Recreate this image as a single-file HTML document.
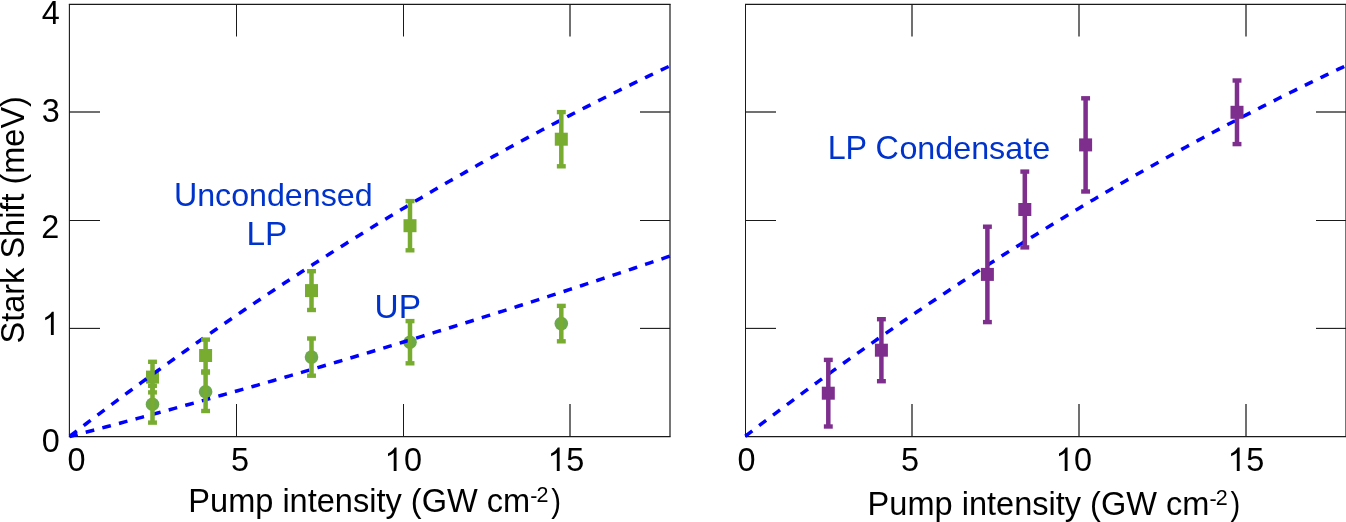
<!DOCTYPE html>
<html><head><meta charset="utf-8"><style>
html,body{margin:0;padding:0;background:#fff;}
svg{display:block;will-change:transform;font-family:"Liberation Sans",sans-serif;}
</style></head><body>
<svg width="1346" height="522" viewBox="0 0 1346 522">
<rect width="1346" height="522" fill="#fff"/>
<line x1="68.85000000000001" y1="4.3" x2="670.6" y2="4.3" stroke="#1a1a1a" stroke-width="1.3"/><line x1="68.85000000000001" y1="436.6" x2="670.6" y2="436.6" stroke="#1a1a1a" stroke-width="1.1"/><line x1="69.4" y1="4.3" x2="69.4" y2="436.6" stroke="#1a1a1a" stroke-width="1.1"/><line x1="670.0" y1="4.3" x2="670.0" y2="436.6" stroke="#1a1a1a" stroke-width="1.2"/><line x1="236.5" y1="4.3" x2="236.5" y2="36.5" stroke="#1a1a1a" stroke-width="1.0"/><line x1="236.5" y1="436.6" x2="236.5" y2="404" stroke="#1a1a1a" stroke-width="1.0"/><line x1="403.5" y1="4.3" x2="403.5" y2="36.5" stroke="#1a1a1a" stroke-width="1.0"/><line x1="403.5" y1="436.6" x2="403.5" y2="404" stroke="#1a1a1a" stroke-width="1.0"/><line x1="570.0" y1="4.3" x2="570.0" y2="36.5" stroke="#1a1a1a" stroke-width="1.25"/><line x1="570.0" y1="436.6" x2="570.0" y2="404" stroke="#1a1a1a" stroke-width="1.25"/><line x1="69.4" y1="112.0" x2="100" y2="112.0" stroke="#1a1a1a" stroke-width="1.25"/><line x1="670.0" y1="112.0" x2="640.0" y2="112.0" stroke="#1a1a1a" stroke-width="1.25"/><line x1="69.4" y1="220.5" x2="100" y2="220.5" stroke="#1a1a1a" stroke-width="1.0"/><line x1="670.0" y1="220.5" x2="640.0" y2="220.5" stroke="#1a1a1a" stroke-width="1.0"/><line x1="69.4" y1="328.4" x2="100" y2="328.4" stroke="#1a1a1a" stroke-width="1.1"/><line x1="670.0" y1="328.4" x2="640.0" y2="328.4" stroke="#1a1a1a" stroke-width="1.1"/><line x1="745.0" y1="4.3" x2="1346.6" y2="4.3" stroke="#1a1a1a" stroke-width="1.3"/><line x1="745.0" y1="436.6" x2="1346.6" y2="436.6" stroke="#1a1a1a" stroke-width="1.1"/><line x1="745.5" y1="4.3" x2="745.5" y2="436.6" stroke="#1a1a1a" stroke-width="1.0"/><line x1="1346.0" y1="4.3" x2="1346.0" y2="436.6" stroke="#1a1a1a" stroke-width="1.2"/><line x1="912.0" y1="4.3" x2="912.0" y2="36.5" stroke="#1a1a1a" stroke-width="1.25"/><line x1="912.0" y1="436.6" x2="912.0" y2="404" stroke="#1a1a1a" stroke-width="1.25"/><line x1="1079.0" y1="4.3" x2="1079.0" y2="36.5" stroke="#1a1a1a" stroke-width="1.25"/><line x1="1079.0" y1="436.6" x2="1079.0" y2="404" stroke="#1a1a1a" stroke-width="1.25"/><line x1="1246.0" y1="4.3" x2="1246.0" y2="36.5" stroke="#1a1a1a" stroke-width="1.25"/><line x1="1246.0" y1="436.6" x2="1246.0" y2="404" stroke="#1a1a1a" stroke-width="1.25"/><line x1="745.5" y1="112.0" x2="776" y2="112.0" stroke="#1a1a1a" stroke-width="1.25"/><line x1="1346.0" y1="112.0" x2="1316.0" y2="112.0" stroke="#1a1a1a" stroke-width="1.25"/><line x1="745.5" y1="220.5" x2="776" y2="220.5" stroke="#1a1a1a" stroke-width="1.0"/><line x1="1346.0" y1="220.5" x2="1316.0" y2="220.5" stroke="#1a1a1a" stroke-width="1.0"/><line x1="745.5" y1="328.4" x2="776" y2="328.4" stroke="#1a1a1a" stroke-width="1.1"/><line x1="1346.0" y1="328.4" x2="1316.0" y2="328.4" stroke="#1a1a1a" stroke-width="1.1"/><circle cx="152.50" cy="404.20" r="6.8" fill="#6da849"/><rect x="146.00" y="370.60" width="13.0" height="13.0" fill="#77ac30"/><circle cx="205.60" cy="391.80" r="6.8" fill="#6da849"/><rect x="199.10" y="349.00" width="13.0" height="13.0" fill="#77ac30"/><circle cx="311.50" cy="357.10" r="6.8" fill="#6da849"/><rect x="305.00" y="284.10" width="13.0" height="13.0" fill="#77ac30"/><circle cx="410.00" cy="342.20" r="6.8" fill="#6da849"/><rect x="403.50" y="219.20" width="13.0" height="13.0" fill="#77ac30"/><circle cx="561.30" cy="323.60" r="6.8" fill="#6da849"/><rect x="554.80" y="132.70" width="13.0" height="13.0" fill="#77ac30"/><path d="M69.50,436.50 L73.50,433.42 L77.51,430.36 L81.51,427.30 L85.51,424.25 L89.52,421.20 L93.52,418.17 L97.52,415.15 L101.53,412.13 L105.53,409.12 L109.53,406.12 L113.54,403.13 L117.54,400.14 L121.54,397.17 L125.55,394.20 L129.55,391.24 L133.55,388.29 L137.56,385.35 L141.56,382.42 L145.56,379.49 L149.57,376.57 L153.57,373.67 L157.57,370.77 L161.58,367.87 L165.58,364.99 L169.58,362.11 L173.59,359.25 L177.59,356.39 L181.59,353.54 L185.60,350.70 L189.60,347.86 L193.60,345.03 L197.61,342.22 L201.61,339.41 L205.61,336.61 L209.62,333.81 L213.62,331.03 L217.62,328.25 L221.63,325.48 L225.63,322.72 L229.63,319.97 L233.64,317.23 L237.64,314.49 L241.64,311.76 L245.65,309.04 L249.65,306.33 L253.65,303.63 L257.66,300.94 L261.66,298.25 L265.66,295.57 L269.67,292.90 L273.67,290.24 L277.67,287.58 L281.68,284.94 L285.68,282.30 L289.68,279.67 L293.69,277.05 L297.69,274.43 L301.69,271.83 L305.70,269.23 L309.70,266.64 L313.70,264.06 L317.71,261.49 L321.71,258.92 L325.71,256.36 L329.72,253.81 L333.72,251.27 L337.72,248.74 L341.73,246.22 L345.73,243.70 L349.73,241.19 L353.74,238.69 L357.74,236.19 L361.74,233.71 L365.75,231.23 L369.75,228.76 L373.75,226.30 L377.76,223.85 L381.76,221.40 L385.76,218.97 L389.77,216.54 L393.77,214.12 L397.77,211.70 L401.78,209.30 L405.78,206.90 L409.78,204.51 L413.79,202.13 L417.79,199.75 L421.79,197.39 L425.80,195.03 L429.80,192.68 L433.80,190.34 L437.81,188.00 L441.81,185.68 L445.81,183.36 L449.82,181.05 L453.82,178.74 L457.82,176.45 L461.83,174.16 L465.83,171.88 L469.83,169.61 L473.84,167.35 L477.84,165.09 L481.84,162.84 L485.85,160.60 L489.85,158.37 L493.85,156.15 L497.86,153.93 L501.86,151.72 L505.86,149.52 L509.87,147.33 L513.87,145.14 L517.87,142.96 L521.88,140.79 L525.88,138.63 L529.88,136.47 L533.89,134.33 L537.89,132.19 L541.89,130.06 L545.90,127.93 L549.90,125.82 L553.90,123.71 L557.91,121.61 L561.91,119.51 L565.91,117.43 L569.92,115.35 L573.92,113.28 L577.92,111.22 L581.93,109.16 L585.93,107.12 L589.93,105.08 L593.94,103.05 L597.94,101.02 L601.94,99.01 L605.95,97.00 L609.95,95.00 L613.95,93.00 L617.96,91.02 L621.96,89.04 L625.96,87.07 L629.97,85.10 L633.97,83.15 L637.97,81.20 L641.98,79.26 L645.98,77.33 L649.98,75.40 L653.99,73.48 L657.99,71.57 L661.99,69.67 L666.00,67.78 L670.00,65.89" fill="none" stroke="#0000ff" stroke-width="3.5" stroke-dasharray="8.8 8.61" stroke-dashoffset="-0.40"/><path d="M69.50,436.50 L73.50,435.45 L77.51,434.41 L81.51,433.36 L85.51,432.30 L89.52,431.25 L93.52,430.19 L97.52,429.13 L101.53,428.07 L105.53,427.01 L109.53,425.94 L113.54,424.88 L117.54,423.81 L121.54,422.74 L125.55,421.66 L129.55,420.59 L133.55,419.51 L137.56,418.43 L141.56,417.35 L145.56,416.26 L149.57,415.18 L153.57,414.09 L157.57,413.00 L161.58,411.91 L165.58,410.81 L169.58,409.71 L173.59,408.62 L177.59,407.51 L181.59,406.41 L185.60,405.31 L189.60,404.20 L193.60,403.09 L197.61,401.98 L201.61,400.87 L205.61,399.75 L209.62,398.63 L213.62,397.51 L217.62,396.39 L221.63,395.27 L225.63,394.14 L229.63,393.01 L233.64,391.88 L237.64,390.75 L241.64,389.61 L245.65,388.48 L249.65,387.34 L253.65,386.20 L257.66,385.06 L261.66,383.91 L265.66,382.76 L269.67,381.61 L273.67,380.46 L277.67,379.31 L281.68,378.15 L285.68,377.00 L289.68,375.84 L293.69,374.67 L297.69,373.51 L301.69,372.34 L305.70,371.18 L309.70,370.01 L313.70,368.83 L317.71,367.66 L321.71,366.48 L325.71,365.30 L329.72,364.12 L333.72,362.94 L337.72,361.76 L341.73,360.57 L345.73,359.38 L349.73,358.19 L353.74,356.99 L357.74,355.80 L361.74,354.60 L365.75,353.40 L369.75,352.20 L373.75,351.00 L377.76,349.79 L381.76,348.58 L385.76,347.37 L389.77,346.16 L393.77,344.95 L397.77,343.73 L401.78,342.51 L405.78,341.29 L409.78,340.07 L413.79,338.84 L417.79,337.62 L421.79,336.39 L425.80,335.15 L429.80,333.92 L433.80,332.69 L437.81,331.45 L441.81,330.21 L445.81,328.97 L449.82,327.72 L453.82,326.48 L457.82,325.23 L461.83,323.98 L465.83,322.73 L469.83,321.47 L473.84,320.22 L477.84,318.96 L481.84,317.70 L485.85,316.43 L489.85,315.17 L493.85,313.90 L497.86,312.63 L501.86,311.36 L505.86,310.09 L509.87,308.81 L513.87,307.54 L517.87,306.26 L521.88,304.97 L525.88,303.69 L529.88,302.41 L533.89,301.12 L537.89,299.83 L541.89,298.53 L545.90,297.24 L549.90,295.94 L553.90,294.65 L557.91,293.35 L561.91,292.04 L565.91,290.74 L569.92,289.43 L573.92,288.12 L577.92,286.81 L581.93,285.50 L585.93,284.18 L589.93,282.86 L593.94,281.55 L597.94,280.22 L601.94,278.90 L605.95,277.57 L609.95,276.25 L613.95,274.92 L617.96,273.58 L621.96,272.25 L625.96,270.91 L629.97,269.57 L633.97,268.23 L637.97,266.89 L641.98,265.55 L645.98,264.20 L649.98,262.85 L653.99,261.50 L657.99,260.15 L661.99,258.79 L666.00,257.43 L670.00,256.07" fill="none" stroke="#0000ff" stroke-width="3.5" stroke-dasharray="8.8 8.38" stroke-dashoffset="0.40"/><path d="M745.00,436.50 L749.01,433.42 L753.02,430.35 L757.03,427.28 L761.04,424.23 L765.05,421.18 L769.06,418.14 L773.07,415.11 L777.08,412.09 L781.09,409.07 L785.10,406.07 L789.11,403.07 L793.12,400.08 L797.13,397.10 L801.14,394.13 L805.15,391.17 L809.16,388.21 L813.17,385.27 L817.18,382.33 L821.19,379.40 L825.20,376.48 L829.21,373.56 L833.22,370.66 L837.23,367.76 L841.24,364.87 L845.25,361.99 L849.26,359.12 L853.27,356.26 L857.28,353.40 L861.29,350.56 L865.30,347.72 L869.31,344.89 L873.32,342.07 L877.33,339.25 L881.34,336.45 L885.35,333.65 L889.36,330.86 L893.37,328.08 L897.38,325.31 L901.39,322.54 L905.40,319.79 L909.41,317.04 L913.42,314.30 L917.43,311.57 L921.44,308.85 L925.45,306.13 L929.46,303.42 L933.47,300.73 L937.48,298.03 L941.49,295.35 L945.50,292.68 L949.51,290.01 L953.52,287.35 L957.53,284.70 L961.54,282.06 L965.55,279.43 L969.56,276.80 L973.57,274.19 L977.58,271.58 L981.59,268.98 L985.60,266.38 L989.61,263.80 L993.62,261.22 L997.63,258.65 L1001.64,256.09 L1005.65,253.54 L1009.66,250.99 L1013.67,248.46 L1017.68,245.93 L1021.69,243.41 L1025.70,240.90 L1029.71,238.39 L1033.72,235.90 L1037.73,233.41 L1041.74,230.93 L1045.75,228.46 L1049.76,225.99 L1053.77,223.54 L1057.78,221.09 L1061.79,218.65 L1065.80,216.21 L1069.81,213.79 L1073.82,211.37 L1077.83,208.97 L1081.84,206.56 L1085.85,204.17 L1089.86,201.79 L1093.87,199.41 L1097.88,197.04 L1101.89,194.68 L1105.90,192.33 L1109.91,189.98 L1113.92,187.65 L1117.93,185.32 L1121.94,183.00 L1125.95,180.68 L1129.96,178.38 L1133.97,176.08 L1137.98,173.79 L1141.99,171.51 L1146.00,169.23 L1150.01,166.97 L1154.02,164.71 L1158.03,162.46 L1162.04,160.22 L1166.05,157.98 L1170.06,155.75 L1174.07,153.54 L1178.08,151.32 L1182.09,149.12 L1186.10,146.92 L1190.11,144.74 L1194.12,142.56 L1198.13,140.38 L1202.14,138.22 L1206.15,136.06 L1210.16,133.91 L1214.17,131.77 L1218.18,129.64 L1222.19,127.51 L1226.20,125.39 L1230.21,123.28 L1234.22,121.18 L1238.23,119.09 L1242.24,117.00 L1246.25,114.92 L1250.26,112.85 L1254.27,110.78 L1258.28,108.73 L1262.29,106.68 L1266.30,104.64 L1270.31,102.60 L1274.32,100.58 L1278.33,98.56 L1282.34,96.55 L1286.35,94.55 L1290.36,92.55 L1294.37,90.56 L1298.38,88.58 L1302.39,86.61 L1306.40,84.65 L1310.41,82.69 L1314.42,80.74 L1318.43,78.80 L1322.44,76.86 L1326.45,74.94 L1330.46,73.02 L1334.47,71.11 L1338.48,69.20 L1342.49,67.31 L1346.50,65.42" fill="none" stroke="#0000ff" stroke-width="3.5" stroke-dasharray="8.8 8.61" stroke-dashoffset="-0.40"/><rect x="150.25" y="385.80" width="4.5" height="36.80" fill="#77ac30"/><rect x="148.05" y="383.60" width="8.9" height="4.4" fill="#77ac30"/><rect x="148.05" y="420.40" width="8.9" height="4.4" fill="#77ac30"/><rect x="150.25" y="361.80" width="4.5" height="30.60" fill="#77ac30"/><rect x="148.05" y="359.60" width="8.9" height="4.4" fill="#77ac30"/><rect x="148.05" y="390.20" width="8.9" height="4.4" fill="#77ac30"/><rect x="203.35" y="372.60" width="4.5" height="38.40" fill="#77ac30"/><rect x="201.15" y="370.40" width="8.9" height="4.4" fill="#77ac30"/><rect x="201.15" y="408.80" width="8.9" height="4.4" fill="#77ac30"/><rect x="203.35" y="339.60" width="4.5" height="31.80" fill="#77ac30"/><rect x="201.15" y="337.40" width="8.9" height="4.4" fill="#77ac30"/><rect x="201.15" y="369.20" width="8.9" height="4.4" fill="#77ac30"/><rect x="309.25" y="338.50" width="4.5" height="37.20" fill="#77ac30"/><rect x="307.05" y="336.30" width="8.9" height="4.4" fill="#77ac30"/><rect x="307.05" y="373.50" width="8.9" height="4.4" fill="#77ac30"/><rect x="309.25" y="271.20" width="4.5" height="38.80" fill="#77ac30"/><rect x="307.05" y="269.00" width="8.9" height="4.4" fill="#77ac30"/><rect x="307.05" y="307.80" width="8.9" height="4.4" fill="#77ac30"/><rect x="407.75" y="321.10" width="4.5" height="42.20" fill="#77ac30"/><rect x="405.55" y="318.90" width="8.9" height="4.4" fill="#77ac30"/><rect x="405.55" y="361.10" width="8.9" height="4.4" fill="#77ac30"/><rect x="407.75" y="201.10" width="4.5" height="49.20" fill="#77ac30"/><rect x="405.55" y="198.90" width="8.9" height="4.4" fill="#77ac30"/><rect x="405.55" y="248.10" width="8.9" height="4.4" fill="#77ac30"/><rect x="559.05" y="305.90" width="4.5" height="35.40" fill="#77ac30"/><rect x="556.85" y="303.70" width="8.9" height="4.4" fill="#77ac30"/><rect x="556.85" y="339.10" width="8.9" height="4.4" fill="#77ac30"/><rect x="559.05" y="112.10" width="4.5" height="54.20" fill="#77ac30"/><rect x="556.85" y="109.90" width="8.9" height="4.4" fill="#77ac30"/><rect x="556.85" y="164.10" width="8.9" height="4.4" fill="#77ac30"/><rect x="821.80" y="386.70" width="13.0" height="13.0" fill="#7e2f8e"/><rect x="826.05" y="359.90" width="4.5" height="66.60" fill="#7e2f8e"/><rect x="823.85" y="357.70" width="8.9" height="4.4" fill="#7e2f8e"/><rect x="823.85" y="424.30" width="8.9" height="4.4" fill="#7e2f8e"/><rect x="874.90" y="343.70" width="13.0" height="13.0" fill="#7e2f8e"/><rect x="879.15" y="319.20" width="4.5" height="62.00" fill="#7e2f8e"/><rect x="876.95" y="317.00" width="8.9" height="4.4" fill="#7e2f8e"/><rect x="876.95" y="379.00" width="8.9" height="4.4" fill="#7e2f8e"/><rect x="980.90" y="267.90" width="13.0" height="13.0" fill="#7e2f8e"/><rect x="985.15" y="226.70" width="4.5" height="95.40" fill="#7e2f8e"/><rect x="982.95" y="224.50" width="8.9" height="4.4" fill="#7e2f8e"/><rect x="982.95" y="319.90" width="8.9" height="4.4" fill="#7e2f8e"/><rect x="1018.30" y="203.00" width="13.0" height="13.0" fill="#7e2f8e"/><rect x="1022.55" y="171.60" width="4.5" height="75.80" fill="#7e2f8e"/><rect x="1020.35" y="169.40" width="8.9" height="4.4" fill="#7e2f8e"/><rect x="1020.35" y="245.20" width="8.9" height="4.4" fill="#7e2f8e"/><rect x="1079.10" y="138.40" width="13.0" height="13.0" fill="#7e2f8e"/><rect x="1083.35" y="98.30" width="4.5" height="93.20" fill="#7e2f8e"/><rect x="1081.15" y="96.10" width="8.9" height="4.4" fill="#7e2f8e"/><rect x="1081.15" y="189.30" width="8.9" height="4.4" fill="#7e2f8e"/><rect x="1230.50" y="105.80" width="13.0" height="13.0" fill="#7e2f8e"/><rect x="1234.75" y="80.50" width="4.5" height="63.60" fill="#7e2f8e"/><rect x="1232.55" y="78.30" width="8.9" height="4.4" fill="#7e2f8e"/><rect x="1232.55" y="141.90" width="8.9" height="4.4" fill="#7e2f8e"/><text x="41.66" y="0" transform="translate(0 23.60) scale(1 1.04)" font-size="32.4" fill="#000" xml:space="preserve">4</text><text x="41.67" y="0" transform="translate(0 121.70) scale(1 1.04)" font-size="32.4" fill="#000" xml:space="preserve">3</text><text x="41.27" y="0" transform="translate(0 238.10) scale(1 1.04)" font-size="32.4" fill="#000" xml:space="preserve">2</text><path d="M53.74,335.00L50.90,335.00L50.90,316.85Q49.87,317.83 48.20,318.82Q46.53,319.80 45.20,320.29L45.20,317.53Q47.59,316.41 49.38,314.81Q51.16,313.22 51.91,311.71L53.74,311.71Z" fill="#000"/><text x="41.63" y="0" transform="translate(0 451.80) scale(1 1.04)" font-size="32.4" fill="#000" xml:space="preserve">0</text><text x="67.53" y="0" transform="translate(0 470.90) scale(1 1.04)" font-size="32.4" fill="#000" xml:space="preserve">0</text><text x="231.00" y="0" transform="translate(0 470.90) scale(1 1.04)" font-size="32.4" fill="#000" xml:space="preserve">5</text><path d="M396.54,470.90L393.70,470.90L393.70,452.75Q392.67,453.73 391.00,454.72Q389.33,455.70 388.00,456.19L388.00,453.43Q390.39,452.31 392.18,450.71Q393.96,449.12 394.71,447.61L396.54,447.61Z" fill="#000"/><text x="404.03" y="0" transform="translate(0 470.90) scale(1 1.04)" font-size="32.4" fill="#000" xml:space="preserve">0</text><path d="M559.64,470.90L556.80,470.90L556.80,452.75Q555.77,453.73 554.10,454.72Q552.43,455.70 551.10,456.19L551.10,453.43Q553.49,452.31 555.28,450.71Q557.06,449.12 557.81,447.61L559.64,447.61Z" fill="#000"/><text x="566.30" y="0" transform="translate(0 470.90) scale(1 1.04)" font-size="32.4" fill="#000" xml:space="preserve">5</text><text x="737.53" y="0" transform="translate(0 470.90) scale(1 1.04)" font-size="32.4" fill="#000" xml:space="preserve">0</text><text x="901.00" y="0" transform="translate(0 470.90) scale(1 1.04)" font-size="32.4" fill="#000" xml:space="preserve">5</text><path d="M1067.54,470.90L1064.70,470.90L1064.70,452.75Q1063.67,453.73 1062.00,454.72Q1060.33,455.70 1059.00,456.19L1059.00,453.43Q1061.39,452.31 1063.18,450.71Q1064.96,449.12 1065.71,447.61L1067.54,447.61Z" fill="#000"/><text x="1074.03" y="0" transform="translate(0 470.90) scale(1 1.04)" font-size="32.4" fill="#000" xml:space="preserve">0</text><path d="M1239.64,470.90L1236.80,470.90L1236.80,452.75Q1235.77,453.73 1234.10,454.72Q1232.43,455.70 1231.10,456.19L1231.10,453.43Q1233.49,452.31 1235.28,450.71Q1237.06,449.12 1237.81,447.61L1239.64,447.61Z" fill="#000"/><text x="1246.20" y="0" transform="translate(0 470.90) scale(1 1.04)" font-size="32.4" fill="#000" xml:space="preserve">5</text><text x="188.33" y="0" transform="translate(0 511.70) scale(1 1.04)" font-size="32.55" fill="#000" xml:space="preserve">P</text><text x="210.04" y="0" transform="translate(0 511.70) scale(1 1.0)" font-size="32.55" fill="#000" xml:space="preserve">ump intensity (</text><text x="421.69" y="0" transform="translate(0 511.70) scale(1 1.04)" font-size="32.55" fill="#000" xml:space="preserve">GW </text><text x="486.78" y="0" transform="translate(0 511.70) scale(1 1.0)" font-size="32.55" fill="#000" xml:space="preserve">cm</text><text x="530.14" y="0" transform="translate(0 502.80) scale(1 1.0)" font-size="21.5" fill="#000" xml:space="preserve">-</text><text x="536.52" y="0" transform="translate(0 501.90) scale(1 1.0)" font-size="21.5" fill="#000" xml:space="preserve">2</text><text x="0" y="0" transform="translate(551.13 511.70) scale(0.9 1)" font-size="32.55" fill="#000">)</text><text x="867.63" y="0" transform="translate(0 514.70) scale(1 1.04)" font-size="32.55" fill="#000" xml:space="preserve">P</text><text x="889.34" y="0" transform="translate(0 514.70) scale(1 1.0)" font-size="32.55" fill="#000" xml:space="preserve">ump intensity (</text><text x="1100.99" y="0" transform="translate(0 514.70) scale(1 1.04)" font-size="32.55" fill="#000" xml:space="preserve">GW </text><text x="1166.08" y="0" transform="translate(0 514.70) scale(1 1.0)" font-size="32.55" fill="#000" xml:space="preserve">cm</text><text x="1209.44" y="0" transform="translate(0 505.80) scale(1 1.0)" font-size="21.5" fill="#000" xml:space="preserve">-</text><text x="1215.82" y="0" transform="translate(0 504.90) scale(1 1.0)" font-size="21.5" fill="#000" xml:space="preserve">2</text><text x="0" y="0" transform="translate(1230.43 514.70) scale(0.9 1)" font-size="32.55" fill="#000">)</text><g transform="translate(23.9 342.0) rotate(-90)"><text x="-1.48" y="0" transform="translate(0 0.00) scale(1 1.04)" font-size="32.5" fill="#000" xml:space="preserve">S</text><text x="20.20" y="0" transform="translate(0 0.00) scale(1 1.0)" font-size="32.5" fill="#000" xml:space="preserve">tark </text><text x="83.41" y="0" transform="translate(0 0.00) scale(1 1.04)" font-size="32.5" fill="#000" xml:space="preserve">S</text><text x="105.09" y="0" transform="translate(0 0.00) scale(1 1.0)" font-size="32.5" fill="#000" xml:space="preserve">hift (me</text><text x="213.44" y="0" transform="translate(0 0.00) scale(1 1.04)" font-size="32.5" fill="#000" xml:space="preserve">V</text><text x="235.12" y="0" transform="translate(0 0.00) scale(1 1.0)" font-size="32.5" fill="#000" xml:space="preserve">)</text></g><text x="173.92" y="0" transform="translate(0 205.70) scale(1 1.04)" font-size="32.2" fill="#0033cc" xml:space="preserve">U</text><text x="197.17" y="0" transform="translate(0 205.70) scale(1 1.0)" font-size="32.2" fill="#0033cc" xml:space="preserve">ncondensed</text><text x="246.46" y="0" transform="translate(0 244.60) scale(1 1.0)" font-size="33.4" fill="#0033cc" xml:space="preserve">LP</text><text x="374.52" y="0" transform="translate(0 318.00) scale(1 1.0)" font-size="33.4" fill="#0033cc" xml:space="preserve">UP</text><text x="827.65" y="0" transform="translate(0 158.70) scale(1 1.04)" font-size="32.27" fill="#0033cc" xml:space="preserve">LP C</text><text x="899.39" y="0" transform="translate(0 158.70) scale(1 1.0)" font-size="32.27" fill="#0033cc" xml:space="preserve">ondensate</text>
</svg></body></html>
